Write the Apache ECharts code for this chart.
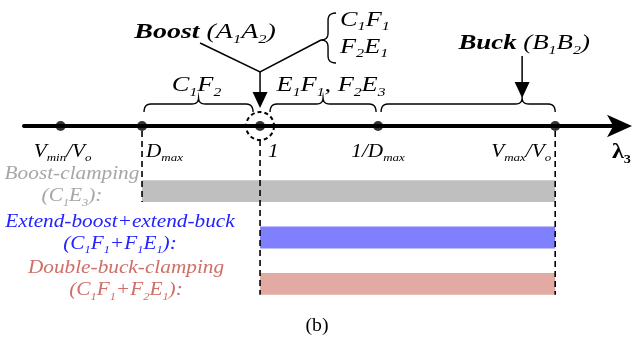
<!DOCTYPE html>
<html>
<head>
<meta charset="utf-8">
<script src="https://cdn.jsdelivr.net/npm/echarts@6/dist/echarts.min.js"></script>
<style>
  html, body { margin: 0; padding: 0; background: #fff; }
  #main { width: 632px; height: 341px; }
</style>
</head>
<body>
<div id="main"></div>
<script>
// Marks on the λ3 axis (log-spaced so Dmax and 1/Dmax sit symmetric about 1)
const pointLabels = ['V_{min}/V_o', 'D_{max}', '1', '1/D_{max}', 'V_{max}/V_o'];
const pointValues = [0.31, 0.5, 1, 2, 5.66];

// Operating modes: name, code, and λ3 range covered
const modeNames = ['Boost-clamping', 'Extend-boost+extend-buck', 'Double-buck-clamping'];
const modeCodes = ['(C_1E_3):', '(C_1F_1+F_1E_1):', '(C_1F_1+F_2E_1):'];
const modeStart = [0.5, 1, 1];
const modeEnd = [5.66, 5.66, 5.66];

// Braced regions above the axis
const braceLabels = ['C_1F_2', 'E_1F_1, F_2E_3', ''];
const braceFrom = [0.5, 1, 2];
const braceTo = [1, 2, 5.66];

// Mode arrows
const boostLabel = 'Boost';
const boostCode = '(A_1A_2)';
const boostValue = 1;
const boostBranches = ['C_1F_1', 'F_2E_1'];
const buckLabel = 'Buck';
const buckCode = '(B_1B_2)';

const axisName = 'λ_3';
const caption = '(b)';

const SERIF = '"Liberation Serif","Times New Roman",serif';
const barColors = ['#bfbfbf', '#8080ff', '#e3aaa3'];
const textColors = ['#a6a6a6', '#2323ff', '#cf6f67'];

const chart = echarts.init(document.getElementById('main'), null, { renderer: 'canvas' });

const option = {
  animation: false,
  backgroundColor: '#fff',
  grid: [
    { left: 24, right: 11, top: 0, bottom: 215 },
    { left: 24, right: 11, top: 168, bottom: 34 }
  ],
  xAxis: [
    {
      gridIndex: 0, type: 'log', logBase: 2, min: 0.25, max: 8.33,
      axisLine: { show: true, lineStyle: { color: '#000', width: 4 }, symbol: ['none', 'arrow'], symbolSize: [17, 25], symbolOffset: [0, 11] },
      axisTick: { show: false }, axisLabel: { show: false }, splitLine: { show: false }
    },
    { gridIndex: 1, type: 'log', logBase: 2, min: 0.25, max: 8.33, show: false, splitLine: { show: false } }
  ],
  yAxis: [
    { gridIndex: 0, type: 'value', min: 0, max: 1, show: false, splitLine: { show: false } },
    { gridIndex: 1, type: 'category', data: modeNames, inverse: true, show: false }
  ],
  series: [
    {
      type: 'scatter', xAxisIndex: 0, yAxisIndex: 0, clip: false, z: 5,
      symbolSize: 10, itemStyle: { color: '#000' },
      data: pointValues.map(v => [v, 0])
    },
    {
      type: 'custom', xAxisIndex: 1, yAxisIndex: 1, clip: false,
      encode: { x: [0, 1], y: 2 },
      data: modeNames.map((n, i) => [modeStart[i], modeEnd[i], i]),
      renderItem: function (params, api) {
        const s = api.coord([api.value(0), api.value(2)]);
        const e = api.coord([api.value(1), api.value(2)]);
        const h = api.size([1, 1])[1] * 0.47;
        return {
          type: 'rect',
          shape: { x: s[0], y: s[1] - h / 2, width: e[0] - s[0], height: h },
          style: { fill: barColors[params.dataIndex] }
        };
      }
    }
  ]
};
chart.setOption(option);

// ---- annotations placed from the axis scales ----
const px = v => chart.convertToPixel({ xAxisIndex: 0 }, v);
const axisY = chart.convertToPixel({ yAxisIndex: 0 }, 0);
const rowY = i => chart.convertToPixel({ yAxisIndex: 1 }, modeNames[i]);
const band = rowY(1) - rowY(0);
const barH = band * 0.47;

// "C_1F_1" -> rich tokens with subscripts
function richStr(s) {
  const body = s.replace(/_\{([^}]*)\}|_(.)/g, (m, a, b) => '}{s|' + (a || b) + '}{n|');
  return ('{n|' + body + '}').replace(/\{n\|\}/g, '');
}
function richStyles(size, color, style, weight) {
  const base = { fontFamily: SERIF, fontStyle: style || 'italic', fontWeight: weight || 'normal', fill: color };
  return {
    n: Object.assign({}, base, { fontSize: size, lineHeight: size + 3 }),
    s: Object.assign({}, base, { fontSize: Math.round(size * 0.6), verticalAlign: 'bottom', padding: [0, 0, -1.5, 0] }),
    b: Object.assign({}, base, { fontSize: size, fontWeight: 'bold', lineHeight: size + 3 })
  };
}
// text anchored at (x, y); sx widens the glyphs about the anchor
function text(x, y, str, size, color, align, sx, opts) {
  opts = opts || {};
  return {
    type: 'text', x: x, y: y, scaleX: sx || 1, silent: true, z: 10,
    style: {
      text: str, align: align || 'left', verticalAlign: 'middle',
      rich: richStyles(size, color, opts.style, opts.weight),
      fontFamily: SERIF, fontSize: size, fill: color
    }
  };
}
function quad(p0, c, p1, n) {
  const out = [];
  for (let k = 0; k <= n; k++) {
    const t = k / n, u = 1 - t;
    out.push([u * u * p0[0] + 2 * u * t * c[0] + t * t * p1[0], u * u * p0[1] + 2 * u * t * c[1] + t * t * p1[1]]);
  }
  return out;
}
// horizontal brace, opening downward, tip pointing up
function hBrace(x1, x2, xm, yEnd, yMid, yTip) {
  const r = 7;
  let pts = [];
  pts = pts.concat(quad([x1, yEnd], [x1, yMid], [x1 + r, yMid], 6));
  pts = pts.concat(quad([xm - r, yMid], [xm, yMid], [xm, yTip], 6));
  pts = pts.concat(quad([xm, yTip], [xm, yMid], [xm + r, yMid], 6));
  pts = pts.concat(quad([x2 - r, yMid], [x2, yMid], [x2, yEnd], 6));
  return { type: 'polyline', silent: true, shape: { points: pts }, style: { stroke: '#000', lineWidth: 1.4, fill: null } };
}
// vertical brace, tip pointing left
function vBrace(xTip, xMid, xEnd, y1, y2, ym) {
  const r = 7;
  let pts = [];
  pts = pts.concat(quad([xEnd, y1], [xMid, y1], [xMid, y1 + r], 6));
  pts = pts.concat(quad([xMid, ym - r], [xMid, ym], [xTip, ym], 6));
  pts = pts.concat(quad([xTip, ym], [xMid, ym], [xMid, ym + r], 6));
  pts = pts.concat(quad([xMid, y2 - r], [xMid, y2], [xEnd, y2], 6));
  return { type: 'polyline', silent: true, shape: { points: pts }, style: { stroke: '#000', lineWidth: 1.4, fill: null } };
}
function arrowDown(x, yTop, yTip) {
  return [
    { type: 'line', silent: true, shape: { x1: x, y1: yTop, x2: x, y2: yTip - 10 }, style: { stroke: '#000', lineWidth: 1.5 } },
    { type: 'polygon', silent: true, shape: { points: [[x - 7.5, yTip - 16], [x + 7.5, yTip - 16], [x, yTip]] }, style: { fill: '#000' } }
  ];
}

const g = [];

// point labels under the axis
const labelAlign = ['center', 'left', 'left', 'center', 'right'];
const labelShift = [2, 4, 8, 0, -4];
pointValues.forEach((v, i) => {
  g.push(text(px(v) + labelShift[i], axisY + 26, richStr(pointLabels[i]), 18, '#000', labelAlign[i], 1.18));
});
g.push(text(631, axisY + 26, richStr(axisName), 22, '#000', 'right', 1.1, { style: 'normal', weight: 'bold' }));

// dashed circle around λ3 = 1
g.push({ type: 'circle', silent: true, z: 6, shape: { cx: px(boostValue), cy: axisY, r: 14 },
  style: { fill: null, stroke: '#000', lineWidth: 2, lineDash: [4, 3] } });

// dashed drop lines at every mode boundary, down to the lowest bar using it
const bounds = Array.from(new Set(modeStart.concat(modeEnd)));
bounds.forEach(v => {
  let last = 0;
  modeNames.forEach((n, i) => { if (modeStart[i] === v || modeEnd[i] === v) last = i; });
  const top = v === boostValue ? axisY + 14 : axisY + 5;
  g.push({ type: 'line', silent: true, z: 7, shape: { x1: px(v), y1: top, x2: px(v), y2: rowY(last) + barH / 2 },
    style: { stroke: '#000', lineWidth: 1.6, lineDash: [6, 4] } });
});

// mode labels at left
const labelCx = [72, 120, 126];
const labelDy = [-6, -5, -5];
modeNames.forEach((n, i) => {
  g.push(text(labelCx[i], rowY(i) + labelDy[i], '{n|' + n + '}\n' + richStr(modeCodes[i]), 19, textColors[i], 'center', 1.12));
});

// braces over the axis
const braceGapL = [2, 10, 3];
const braceGapR = [7, 2, 0];
const braceTip = [0.5, 0.5, 0.81];
const yEnd = axisY - 14, yMid = axisY - 22, yTip = axisY - 28;
const tipX = [];
braceFrom.forEach((a, i) => {
  const x1 = px(a) + braceGapL[i], x2 = px(braceTo[i]) - braceGapR[i];
  const xm = x1 + (x2 - x1) * braceTip[i];
  tipX.push(xm);
  g.push(hBrace(x1, x2, xm, yEnd, yMid, yTip));
  if (braceLabels[i]) g.push(text(xm + (i === 1 ? 8 : -2), axisY - 41, richStr(braceLabels[i]), 22, '#000', 'center', 1.2));
});

// Boost arrow into λ3 = 1 with its two branches
const bx = px(boostValue), vy = axisY - 54;
arrowDown(bx, vy, axisY - 18).forEach(e => g.push(e));
g.push({ type: 'polyline', silent: true, shape: { points: [[bx - 60, axisY - 83], [bx, vy], [bx + 61, axisY - 86]] },
  style: { stroke: '#000', lineWidth: 1.5, fill: null } });
g.push(vBrace(bx + 61, bx + 68, bx + 76, axisY - 113, axisY - 63, axisY - 86));
g.push(text(bx - 55, axisY - 94, '{b|' + boostLabel + '} ' + richStr(boostCode), 22, '#000', 'center', 1.27));
g.push(text(bx + 80, axisY - 106, richStr(boostBranches[0]), 21, '#000', 'left', 1.25));
g.push(text(bx + 80, axisY - 79, richStr(boostBranches[1]), 21, '#000', 'left', 1.25));

// Buck arrow onto the right brace tip
const kx = tipX[2];
arrowDown(kx, axisY - 70, axisY - 28).forEach(e => g.push(e));
g.push(text(kx + 2, axisY - 83, '{b|' + buckLabel + '} ' + richStr(buckCode), 22, '#000', 'center', 1.22));

// caption
g.push(text(317, 326, '{n|' + caption + '}', 18, '#000', 'center', 1.1, { style: 'normal' }));

chart.setOption({ graphic: { elements: g } });
</script>
</body>
</html>
